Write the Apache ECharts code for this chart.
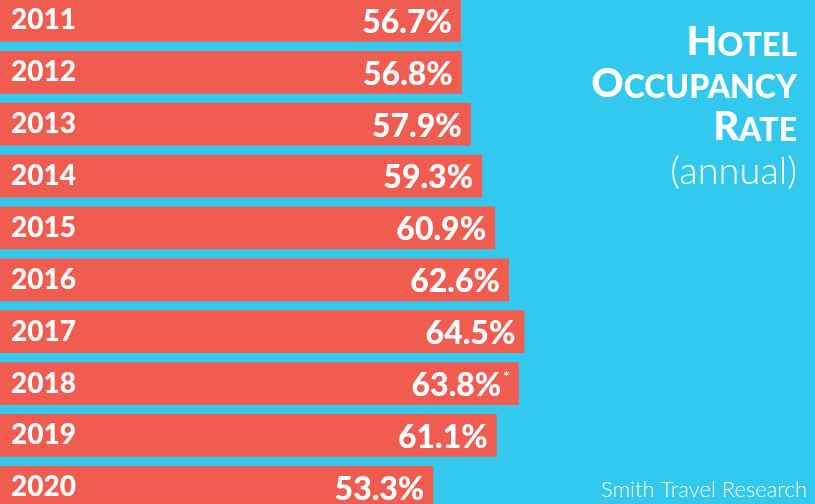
<!DOCTYPE html>
<html>
<head>
<meta charset="utf-8">
<script src="https://cdn.jsdelivr.net/npm/echarts@6/dist/echarts.min.js"></script>
<style>
  html, body { margin: 0; padding: 0; background: #33c9ee; }
  #chart { width: 815px; height: 504px; }
</style>
</head>
<body>
<div id="chart"></div>
<script>
// data
const years = ['2011', '2012', '2013', '2014', '2015', '2016', '2017', '2018', '2019', '2020'];
const occupancy = [56.7, 56.8, 57.9, 59.3, 60.9, 62.6, 64.5, 63.8, 61.1, 53.3];
const notes = ['', '', '', '', '', '', '', '*', '', ''];
const titleLines = [['H', 'OTEL'], ['O', 'CCUPANCY'], ['R', 'ATE']];
const subtitle = '(annual)';
const source = 'Smith Travel Research';

const coral = '#f15c51';
const cyan = '#33c9ee';
const bold = 'Lato';

var chart = echarts.init(document.getElementById('chart'));

// one title block per line so the small caps line up
const titleTops = [22, 64, 107];
const titles = titleLines.map((parts, i) => ({
  text: '{b|' + parts[0] + '}{s|' + parts[1] + '}',
  right: 18,
  top: titleTops[i],
  padding: 0,
  textStyle: {
    rich: {
      b: { fontFamily: bold, fontWeight: 900, fontSize: 40, color: '#fff', verticalAlign: 'bottom' },
      s: { fontFamily: bold, fontWeight: 900, fontSize: 32, color: '#fff', verticalAlign: 'bottom' }
    }
  }
}));
titles.push({
  text: subtitle,
  right: 18,
  top: 153,
  padding: 0,
  textStyle: { fontFamily: bold, fontWeight: 300, fontSize: 38, color: '#fff' }
});
titles.push({
  text: source,
  right: 8,
  top: 479,
  padding: 0,
  textStyle: { fontFamily: bold, fontWeight: 300, fontSize: 22, color: '#fff' }
});

var option = {
  backgroundColor: cyan,
  animation: false,
  title: titles,
  grid: { left: 0, right: 2, top: -5.5, bottom: -9.25, containLabel: false, outerBoundsMode: 'none' },
  xAxis: {
    type: 'value',
    min: 0,
    max: 100,
    show: false
  },
  yAxis: {
    type: 'category',
    data: years,
    inverse: true,
    z: 10,
    axisLine: { show: false },
    axisTick: { show: false },
    splitLine: { show: false },
    axisLabel: {
      inside: true,
      margin: 11,
      padding: [4, 0, 0, 0],
      color: '#fff',
      fontFamily: bold,
      fontWeight: 900,
      fontSize: 28
    }
  },
  series: [
    {
      type: 'bar',
      data: occupancy,
      barWidth: 42.7,
      itemStyle: { color: coral },
      label: {
        show: true,
        position: 'insideRight',
        distance: 9,
        offset: [0, 2],
        formatter: p => {
          let s = '{v|' + p.value.toFixed(1) + '%}';
          if (notes[p.dataIndex]) s += '{n|' + notes[p.dataIndex] + '}';
          return s;
        },
        rich: {
          v: { fontFamily: bold, fontWeight: 900, fontSize: 32, color: '#fff' },
          n: { fontFamily: bold, fontWeight: 700, fontSize: 15, color: '#fff', verticalAlign: 'top', padding: [0, 0, 0, 2] }
        }
      }
    }
  ]
};

chart.setOption(option);
</script>
</body>
</html>
